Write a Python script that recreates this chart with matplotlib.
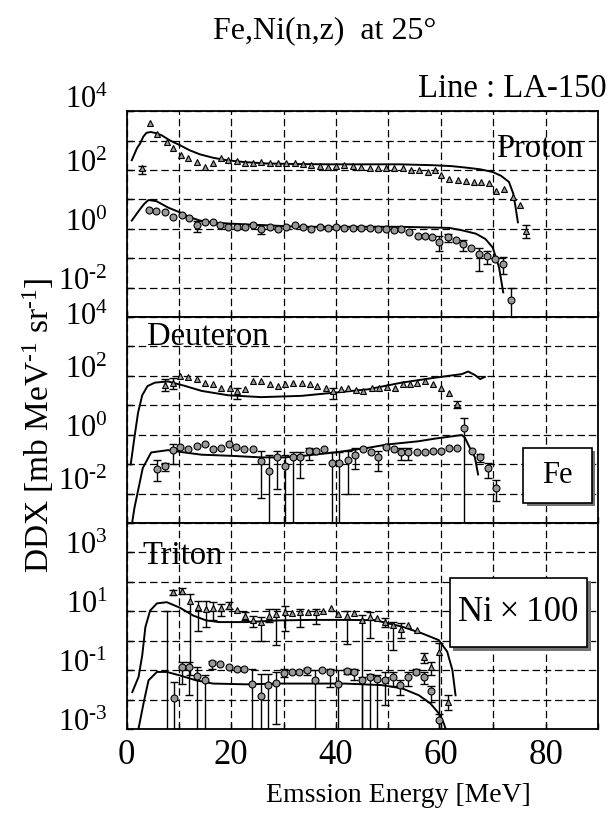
import numpy as np
import matplotlib
matplotlib.use("Agg")
import matplotlib.pyplot as plt
from matplotlib.patches import Rectangle
from matplotlib.transforms import ScaledTranslation, blended_transform_factory
from matplotlib.ticker import NullFormatter, NullLocator

plt.rcParams['font.family'] = ['Liberation Serif', 'DejaVu Serif']
plt.rcParams['mathtext.fontset'] = 'custom'
plt.rcParams['mathtext.rm'] = 'Liberation Serif'
plt.rcParams['mathtext.it'] = 'Liberation Serif:italic'
plt.rcParams['mathtext.bf'] = 'Liberation Serif:bold'

# ---------------- Proton ----------------
pfe_e = [2.9, 4.5, 5.9, 7.7, 8.9, 10.4, 11.8, 13.4, 15.0, 16.5, 18.1, 19.4, 21.0, 22.6, 24.2,
         25.7, 27.3, 28.9, 30.5, 32.1, 33.7, 35.3, 36.9, 38.4, 40.0, 41.6, 43.2, 44.8, 46.4,
         48.0, 49.6, 51.1, 52.7, 54.3, 55.9, 57.5, 58.8, 60.0, 61.6, 63.2, 64.8, 66.4, 67.7,
         69.2, 70.5, 72.1, 73.7, 75.1, 76.2]
pfe_v = [112, 3800, 1660, 890, 537, 331, 245, 186, 126, 166, 245, 224, 200, 174, 166,
         182, 174, 166, 174, 166, 155, 145, 135, 126, 135, 145, 135, 126, 120,
         120, 120, 120, 112, 98, 98, 85, 98, 66, 50, 45, 43, 39, 39,
         36, 20, 23, 12, 6.3, 0.87]
pfe_err_e = [2.9, 76.2]
pfe_err_lo = [72, 0.5]
pfe_err_hi = [141, 1.3]
pfe_line_e = [1.0, 2.0, 2.6, 3.2, 3.8, 4.6, 5.4, 6.7, 8.3, 10.2, 12.0, 14.0, 16.5, 19.1, 22.5,
              26.7, 33.0, 39.4, 46.0, 52.1, 58.4, 62.0, 64.8, 67.5, 69.9, 71.5, 73.0, 73.8, 74.2, 74.7]
pfe_line_v = [214, 550, 794, 1350, 1820, 1950, 1820, 1510, 1000, 692, 470, 339, 260, 214, 185,
              166, 158, 155, 155, 155, 145, 135, 120, 105, 85, 63, 39, 16, 6.3, 1.66]

pni_e = [4.3, 5.7, 7.3, 8.9, 10.5, 12.0, 13.4, 15.0, 16.5, 17.9, 19.4, 21.0, 22.6, 24.2, 25.7,
         27.3, 28.9, 30.5, 32.1, 33.7, 35.3, 36.9, 38.4, 40.0, 41.6, 43.2, 44.8, 46.4, 48.0,
         49.6, 51.1, 52.4, 54.0, 55.6, 56.9, 58.4, 59.7, 61.3, 62.9, 64.2, 65.7, 67.3, 68.9,
         70.4, 71.9, 73.4]
pni_v = [4.4, 3.9, 3.6, 2.5, 3.0, 2.3, 1.3, 1.66, 1.66, 1.3, 1.17, 1.17, 1.12, 1.3, 1.0,
         1.17, 1.0, 1.17, 1.3, 1.12, 1.0, 1.17, 1.07, 1.17, 1.07, 1.07, 1.07, 1.07, 1.0,
         1.0, 0.91, 1.0, 0.76, 0.59, 0.59, 0.51, 0.35, 0.51, 0.40, 0.31, 0.23, 0.14, 0.12,
         0.095, 0.065, 0.0038]
pni_err_e = [13.4, 25.7, 59.7, 61.3, 64.2, 67.3, 68.9, 71.9, 73.4]
pni_err_lo = [0.76, 0.68, 0.18, 0.35, 0.18, 0.038, 0.065, 0.029, 1e-4]
pni_err_hi = [1.9, 1.3, 0.59, 0.68, 0.40, 0.23, 0.18, 0.11, 0.01]
pni_line_e = [1.0, 2.6, 3.4, 4.2, 5.7, 8.0, 10.2, 12.0, 14.0, 17.0, 20.3, 33.0, 52.1, 61.6,
              64.0, 66.7, 68.5, 69.9, 71.1, 71.9]
pni_line_v = [1.9, 4.7, 7.1, 9.5, 8.7, 5.2, 3.6, 2.5, 1.9, 1.6, 1.48, 1.17, 1.17, 1.07,
              0.89, 0.68, 0.45, 0.23, 0.049, 0.0069]

# ---------------- Deuteron ----------------
dfe_e = [7.3, 8.9, 10.3, 11.8, 13.4, 15.0, 16.5, 18.0, 19.7, 21.1, 22.7, 24.1, 25.7, 27.3,
         28.9, 30.3, 31.8, 33.4, 35.0, 36.4, 38.0, 39.4, 40.9, 42.3, 43.8, 45.2, 46.8, 48.2,
         49.8, 51.2, 52.8, 54.1, 55.5, 56.9, 58.5, 60.0, 61.5, 63.0]
dfe_v = [49, 59, 100, 95, 78, 59, 55, 40, 38, 31, 35, 68, 65, 55,
         46, 52, 59, 59, 55, 46, 38, 31, 35, 38, 32, 31, 38, 40,
         43, 38, 52, 52, 59, 65, 52, 38, 27, 10.7]
dfe_err_e = [7.3, 8.9, 21.1, 39.4, 63.0]
dfe_err_lo = [31, 35, 16, 17, 7.9]
dfe_err_hi = [78, 87, 40, 40, 13.5]
dfe_line_e = [0.8, 1.5, 2.2, 3.0, 4.0, 5.4, 7.9, 11.1, 14.3, 19.4, 25.7, 33.4, 39.7, 46.1,
              52.5, 58.9, 64.0, 65.2, 66.5, 67.5, 68.4]
dfe_line_v = [0.098, 0.79, 5.6, 22, 45, 59, 65, 46, 31, 22, 19, 21, 27, 35,
              59, 87, 115, 141, 107, 78, 93]

dni_e = [5.9, 7.4, 8.9, 10.3, 11.8, 13.4, 15.0, 16.5, 18.0, 19.5, 20.9, 22.5, 24.1, 25.6,
         27.1, 28.7, 30.2, 31.8, 33.2, 34.8, 36.2, 37.7, 39.2, 40.5, 42.2, 43.6, 45.2, 46.6,
         48.0, 49.6, 51.1, 52.4, 53.8, 55.5, 56.9, 58.5, 60.0, 61.5, 63.0, 64.5, 65.9, 67.5,
         69.0, 70.5]
dni_v = [0.066, 0.085, 0.30, 0.38, 0.34, 0.41, 0.49, 0.34, 0.36, 0.47, 0.38, 0.32, 0.32, 0.13,
         0.060, 0.17, 0.085, 0.17, 0.17, 0.28, 0.28, 0.34, 0.11, 0.11, 0.14, 0.21, 0.32, 0.25,
         0.17, 0.38, 0.34, 0.25, 0.25, 0.25, 0.26, 0.28, 0.28, 0.36, 0.36, 1.74, 0.28, 0.17,
         0.074, 0.015]
dni_err_e = [5.9, 7.4, 8.9, 25.6, 27.1, 28.7, 30.2, 31.8, 33.2, 34.8, 39.2, 40.5, 42.2, 43.6,
             48.0, 52.4, 53.8, 64.5, 67.5, 69.0, 70.5]
dni_err_lo = [0.026, 0.058, 0.098, 0.0071, 1e-4, 0.014, 1e-4, 1e-4, 0.034, 0.14, 1e-4, 1e-4,
              0.010, 0.066, 0.058, 0.14, 0.14, 1e-4, 0.12, 0.034, 0.0055]
dni_err_hi = [0.14, 0.11, 0.47, 0.28, 0.20, 0.28, 0.20, 0.25, 0.25, 0.36, 0.25, 0.25,
              0.28, 0.36, 0.28, 0.36, 0.36, 3.8, 0.23, 0.11, 0.03]
dni_line_e = [1.1, 1.5, 3.1, 4.7, 7.9, 11.1, 14.3, 17.5, 20.6, 25.7, 30.2, 33.4, 39.7, 46.1,
              49.9, 55.7, 58.9, 64.0, 64.6, 65.2, 66.5, 67.1]
dni_line_v = [0.0011, 0.0032, 0.074, 0.25, 0.30, 0.25, 0.21, 0.20, 0.19, 0.17, 0.17, 0.19,
              0.25, 0.36, 0.47, 0.60, 0.74, 0.98, 0.79, 0.47, 0.17, 0.045]

# ---------------- Triton ----------------
tfe_e = [8.9, 10.5, 12.1, 13.6, 15.1, 16.5, 18.1, 19.6, 21.0, 22.6, 24.2, 25.6, 27.2, 28.6,
         30.2, 31.6, 33.1, 34.6, 36.1, 37.5, 39.0, 40.4, 42.0, 43.5, 45.0, 46.5, 47.9, 49.4,
         50.8, 52.4, 53.8, 55.4, 56.7, 58.2, 59.6, 61.4]
tfe_v = [45, 50, 23, 14.5, 12, 13.2, 13.2, 15.5, 11.2, 7.2, 5.1, 4.3, 7.2, 8.1,
         9.3, 8.5, 9.3, 9.3, 9.3, 10, 13.2, 7.8, 7.2, 8.9, 5.0, 6.5, 5.8, 4.4,
         3.4, 2.6, 3.4, 2.3, 0.29, 0.13, 0.43, 0.0085]
tfe_err_e = [7.7, 8.9, 10.5, 12.1, 13.6, 15.1, 16.5, 18.1, 19.6, 22.6, 24.2, 25.6, 27.2, 28.6,
             30.2, 33.1, 36.1, 42.0, 45.0, 46.5, 49.4, 50.8, 52.4, 56.7, 58.2, 59.6, 61.4]
tfe_err_lo = [1e-4, 36, 40, 0.066, 2.2, 2.9, 4.9, 7.2, 12, 4.9, 2.9, 1.0, 4.3, 0.69,
              2.2, 2.9, 3.7, 0.8, 1e-4, 1.2, 2.9, 0.48, 1.2, 0.17, 0.068, 1e-4, 0.0044]
tfe_err_hi = [10.5, 55, 60, 39, 23, 22, 20, 18, 20, 9.3, 7.2, 6.3, 12, 12,
              15.5, 12, 12, 10.5, 7.4, 9.5, 5.8, 4.4, 3.9, 0.37, 0.19, 0.81, 0.014]
tfe_line_e = [1.1, 2.3, 3.0, 3.6, 4.5, 5.8, 7.7, 10.2, 12.7, 15.2, 17.7, 22.8, 29.1, 35.3,
              41.6, 47.4, 52.6, 56.4, 59.6, 61.2, 62.2, 62.8]
tfe_line_v = [0.018, 0.059, 0.32, 2.9, 10.5, 18.6, 20.4, 13.2, 7.2, 4.9, 4.3, 4.3, 4.9, 5.1,
              5.1, 5.0, 3.0, 1.78, 1.05, 0.43, 0.10, 0.014]

tni_e = [9.1, 10.5, 12.0, 13.5, 14.9, 16.4, 17.9, 19.5, 21.0, 22.5, 24.0, 25.6, 27.0, 28.6,
         30.0, 31.6, 33.0, 34.4, 36.0, 37.4, 38.8, 40.4, 42.0, 43.4, 44.9, 46.5, 47.9, 49.4,
         50.8, 52.2, 53.7, 55.3, 56.7, 58.2, 59.6]
tni_v = [0.011, 0.13, 0.13, 0.062, 0.048, 0.17, 0.16, 0.13, 0.11, 0.11, 0.033, 0.013, 0.032,
         0.036, 0.079, 0.087, 0.087, 0.098, 0.045, 0.105, 0.087, 0.035, 0.093, 0.087, 0.046,
         0.060, 0.052, 0.046, 0.060, 0.031, 0.060, 0.089, 0.060, 0.019, 0.002]
tni_err_e = [9.1, 10.5, 12.0, 13.5, 14.9, 16.4, 24.0, 25.6, 27.0, 28.6, 30.0, 34.4, 36.0, 38.8,
             40.4, 42.0, 43.4, 44.9, 46.5, 47.9, 49.4, 50.8, 52.2, 53.7, 55.3, 56.7, 58.2, 59.6]
tni_err_lo = [1e-4, 0.035, 0.014, 1e-4, 1e-4, 0.11, 1e-4, 1e-4, 1e-4, 0.0015, 0.06, 0.066,
              1e-4, 0.027, 1e-4, 0.074, 0.048, 1e-4, 1e-4, 1e-4, 0.0066, 0.028, 0.014, 0.028,
              0.074, 0.035, 0.0085, 1e-4]
tni_err_hi = [0.04, 0.19, 0.19, 0.13, 0.07, 0.21, 0.11, 0.076, 0.076, 0.087, 0.11, 0.12,
              0.098, 0.11, 0.098, 0.11, 0.11, 0.06, 0.075, 0.07, 0.089, 0.089, 0.047, 0.089,
              0.11, 0.089, 0.028, 0.0032]
tni_line_e = [2.3, 3.3, 4.2, 5.8, 7.7, 10.2, 13.3, 16.5, 22.8, 29.1, 35.3, 41.6, 48.7, 52.6,
              55.8, 58.0, 59.6, 60.6, 60.9]
tni_line_v = [0.00105, 0.0083, 0.045, 0.087, 0.087, 0.066, 0.045, 0.035, 0.033, 0.035, 0.035,
              0.035, 0.031, 0.024, 0.014, 0.0074, 0.0034, 0.0015, 0.0010]

x_tick_values = [0, 20, 40, 60, 80]
panel_names = ['Proton', 'Deuteron', 'Triton']
panel_ylabels = [[4, 2, 0, -2], [4, 2, 0, -2], [3, 1, -1, -3]]

fig = plt.figure(figsize=(6.13, 8.18), dpi=100)
left, width = 0.2064, 0.7692
bottom0, height = 0.1088, 0.2518
axes = [fig.add_axes([left, bottom0 + (2 - i) * height, width, height]) for i in range(3)]


def draw_series(ax, e, v, err_e, err_lo, err_hi, marker):
    ax.vlines(err_e, err_lo, err_hi, color='k', lw=1.0, zorder=3)
    ax.plot(err_e, err_lo, ls='none', marker='_', ms=5.5, mew=1.0, color='k', zorder=3)
    ax.plot(err_e, err_hi, ls='none', marker='_', ms=5.5, mew=1.0, color='k', zorder=3)
    ax.plot(e, v, ls='none', marker=marker, ms=5, mfc='0.6', mec='k', mew=0.8, zorder=4)


def draw_line(ax, e, v):
    ax.plot(e, v, color='k', lw=1.4, zorder=3)


def decade_label(k):
    if k < 0:
        return r'$10^{\text{-}%d}$' % (-k)
    return r'$10^{%d}$' % k


for i, ax in enumerate(axes):
    ax.set_xlim(0, 90)
    ax.set_yscale('log')
    ax.set_ylim(1e-3, 1e4)
    ax.set_xticks(np.arange(0, 91, 10))
    ax.set_yticks([10.0 ** k for k in range(-3, 5)])
    ax.yaxis.set_minor_locator(NullLocator())
    ax.xaxis.set_minor_locator(NullLocator())
    ax.xaxis.set_major_formatter(NullFormatter())
    ax.yaxis.set_major_formatter(NullFormatter())
    ax.tick_params(direction='in', length=4, width=1.0)
    ax.set_axisbelow(True)
    ax.grid(True, color='k', lw=0.9, ls=(0, (6, 3)))
    for sp in ax.spines.values():
        sp.set_linewidth(1.3)
    # decade labels on the left edge
    lab_tr = blended_transform_factory(ax.transAxes, ax.transData)
    for k in panel_ylabels[i]:
        dy = 4
        if i == 0 and k == 4:
            dy = 8
        if i == 1 and k == 4:
            dy = 0
        if i == 1 and k == -2:
            dy = 8
        ax.text(-0.04, 10.0 ** k, decade_label(k), ha='right', va='center', fontsize=22,
                transform=lab_tr + ScaledTranslation(0, dy / 72, fig.dpi_scale_trans),
                clip_on=False)

ax_p, ax_d, ax_t = axes

draw_line(ax_p, pfe_line_e, pfe_line_v)
draw_line(ax_p, pni_line_e, pni_line_v)
draw_series(ax_p, pfe_e, pfe_v, pfe_err_e, pfe_err_lo, pfe_err_hi, '^')
draw_series(ax_p, pni_e, pni_v, pni_err_e, pni_err_lo, pni_err_hi, 'o')

draw_line(ax_d, dfe_line_e, dfe_line_v)
draw_line(ax_d, dni_line_e, dni_line_v)
draw_series(ax_d, dfe_e, dfe_v, dfe_err_e, dfe_err_lo, dfe_err_hi, '^')
draw_series(ax_d, dni_e, dni_v, dni_err_e, dni_err_lo, dni_err_hi, 'o')

draw_line(ax_t, tfe_line_e, tfe_line_v)
draw_line(ax_t, tni_line_e, tni_line_v)
draw_series(ax_t, tfe_e, tfe_v, tfe_err_e, tfe_err_lo, tfe_err_hi, '^')
draw_series(ax_t, tni_e, tni_v, tni_err_e, tni_err_lo, tni_err_hi, 'o')

# particle names
ax_p.text(0.968, 0.777, panel_names[0], transform=ax_p.transAxes, ha='right', va='baseline',
          fontsize=23.5, zorder=5)
ax_d.text(0.043, 0.863, panel_names[1], transform=ax_d.transAxes, ha='left', va='baseline',
          fontsize=23.5, zorder=5)
ax_t.text(0.033, 0.802, panel_names[2], transform=ax_t.transAxes, ha='left', va='baseline',
          fontsize=23.5, zorder=5)


def shadow_box(ax, x, y, w, h, label, size):
    off = ScaledTranslation(3.5 / 100, -3.5 / 100, fig.dpi_scale_trans)
    ax.add_patch(Rectangle((x, y), w, h, transform=ax.transAxes + off, fc='0.45', ec='none',
                           zorder=6, clip_on=False))
    ax.add_patch(Rectangle((x, y), w, h, transform=ax.transAxes, fc='white', ec='k', lw=1.2,
                           zorder=7, clip_on=False))
    ax.text(x + w / 2, y + h / 2, label, transform=ax.transAxes, ha='center', va='center',
            fontsize=size, zorder=8)


shadow_box(ax_d, 0.841, 0.098, 0.146, 0.268, 'Fe', 22)
shadow_box(ax_t, 0.686, 0.396, 0.291, 0.338, 'Ni\u2009\u00d7\u2009100', 25)

# energy labels under the bottom panel
xl_tr = blended_transform_factory(ax_t.transData, ax_t.transAxes)
for v in x_tick_values:
    ax_t.text(v, -0.05, str(v), transform=xl_tr, ha='center', va='top', fontsize=25,
              clip_on=False)

fig.text(325 / 613, 1 - 38 / 818, 'Fe,Ni(n,z)  at 25\u00b0', ha='center', va='baseline',
         fontsize=23)
fig.text(418 / 613, 1 - 97 / 818, 'Line : LA-150', ha='left', va='baseline', fontsize=23.5)
fig.text(398 / 613, 1 - 802 / 818, 'Emssion Energy [MeV]', ha='center', va='baseline',
         fontsize=20)
fig.text(38 / 613, 1 - 425 / 818, 'DDX [mb MeV$^{\\text{-}1}$ sr$^{\\text{-}1}$]', rotation=90,
         ha='center', va='center', fontsize=24)

fig.savefig('out.png', dpi=100)
